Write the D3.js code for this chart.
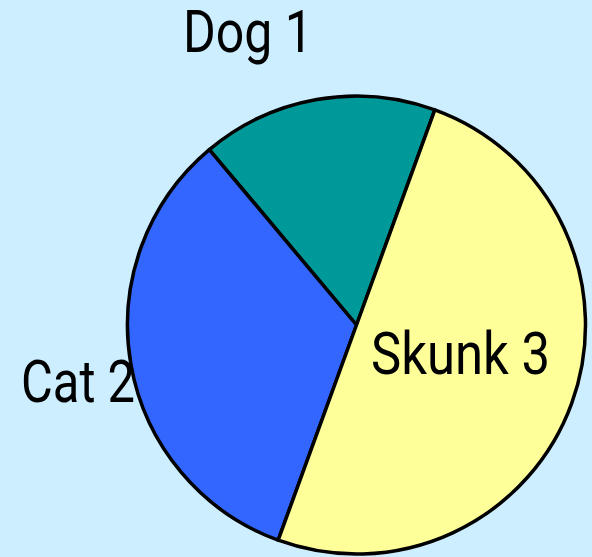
<!DOCTYPE html>
<html><head><meta charset="utf-8">
<script src="https://cdn.jsdelivr.net/npm/d3@7"></script>
<style>html,body{margin:0;padding:0;background:#CCEEFF;}svg{display:block;}</style>
</head><body>
<script>
const categories = ["Dog", "Cat", "Skunk"];
const values = [1, 2, 3];
const colors = ["#009999", "#3366FF", "#FFFF99"];

const W = 592, H = 557;
const cx = 356.5, cy = 325, R = 229;
const svg = d3.select("body").append("svg").attr("width", W).attr("height", H);
svg.append("rect").attr("width", W).attr("height", H).attr("fill", "#CCEEFF");

const start = 20 * Math.PI / 180;
const pie = d3.pie().sort(null).value(d => d.v).startAngle(start).endAngle(start - 2 * Math.PI);
const data = categories.map((c, i) => ({c, v: values[i], col: colors[i]}));
const arcs = pie(data);
const arc = d3.arc().innerRadius(0).outerRadius(R);
const g = svg.append("g").attr("transform", `translate(${cx},${cy})`);
g.selectAll("path").data(arcs).enter().append("path")
  .attr("d", arc).attr("fill", d => d.data.col)
  .attr("stroke", "#000").attr("stroke-width", 3.5).attr("stroke-linejoin", "round");

// labels: [x, baseline, targetWidth]
const labelPos = [[183, 52, 130], [21, 402, 114], [371, 374, 179]];
arcs.forEach((a, i) => {
  const [x, y, tw] = labelPos[i];
  const t = svg.append("text").attr("x", 0).attr("y", 0)
    .attr("font-family", "Roboto, 'Open Sans', sans-serif").attr("font-size", 60)
    .attr("fill", "#000").text(a.data.c + " " + a.data.v);
  const bb = t.node().getBBox();
  const s = tw / bb.width;
  t.attr("transform", `translate(${x - bb.x * s},${y}) scale(${s},1)`);
});
</script>
</body></html>
